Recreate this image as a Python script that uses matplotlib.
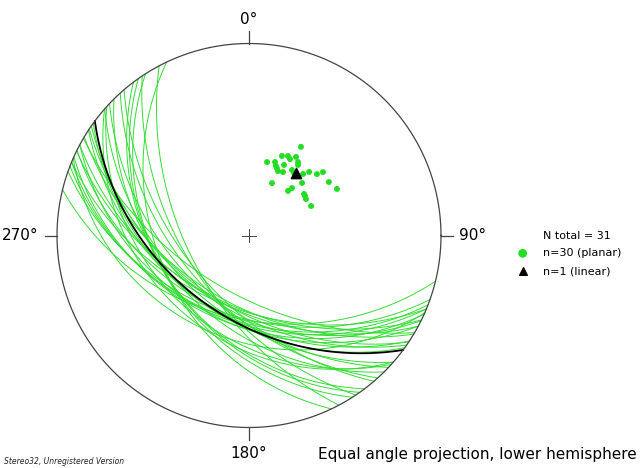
import matplotlib.pyplot as plt
import numpy as np

dip_dir = [210.4, 202.5, 206.1, 210.9, 193.8, 199.5, 213.7, 206.4, 201.2, 204.2,
           208.2, 213.3, 221.3, 223.4, 227.9, 229.4, 203.7, 225.3, 236.2, 222.2,
           221.2, 242.1, 233.0, 237.4, 244.6, 214.8, 215.8, 202.5, 208.2, 234.8]
dip = [56.3, 48.3, 49.5, 51.0, 43.0, 44.2, 49.4, 44.6, 42.4, 40.4,
       41.1, 44.4, 46.2, 49.0, 51.0, 53.8, 33.2, 42.5, 53.2, 36.9,
       34.3, 54.8, 39.5, 38.8, 39.4, 48.2, 43.7, 41.6, 48.6, 39.3]
# one linear reading (trend, plunge) and the plane normal to it
lin_trend = 36.6
lin_plunge = 45.6
tick_labels = ['0°', '90°', '180°', '270°']

GREEN = '#33dd33'


def stereo(e, n, d):
    # equal angle (stereographic) projection, lower hemisphere
    return e / (1 + d), n / (1 + d)


def line_vec(trend, plunge):
    t, p = np.radians(trend), np.radians(plunge)
    return np.sin(t) * np.cos(p), np.cos(t) * np.cos(p), np.sin(p)


def great_circle(dd, dp):
    st = np.radians(dd - 90)
    a = np.radians(dd)
    b = np.radians(dp)
    s = np.array([np.sin(st), np.cos(st), 0.0])
    dv = np.array([np.sin(a) * np.cos(b), np.cos(a) * np.cos(b), np.sin(b)])
    ang = np.linspace(0, np.pi, 200)
    v = np.outer(np.cos(ang), s) + np.outer(np.sin(ang), dv)
    return stereo(v[:, 0], v[:, 1], v[:, 2])


fig = plt.figure(figsize=(6.4, 4.68), dpi=100)
ax = fig.add_axes([0, 0, 1, 1])
ax.set_xlim(-249 / 192, (640 - 249) / 192)
ax.set_ylim((235.5 - 468) / 192, 235.5 / 192)
ax.set_aspect('equal')
ax.axis('off')

# primitive circle
th = np.linspace(0, 2 * np.pi, 400)
ax.plot(np.cos(th), np.sin(th), color='#444444', lw=0.9, zorder=3)

# ticks and labels
tl = 0.065
ax.plot([0, 0], [1, 1 + tl], color='#444444', lw=0.9)
ax.plot([1, 1 + tl], [0, 0], color='#444444', lw=0.9)
ax.plot([0, 0], [-1, -1 - tl], color='#444444', lw=0.9)
ax.plot([-1, -1 - tl], [0, 0], color='#444444', lw=0.9)
fs = 11
ax.text(0, 1 + tl + 0.02, tick_labels[0], ha='center', va='bottom', fontsize=fs)
ax.text(1 + tl + 0.03, 0, tick_labels[1], ha='left', va='center', fontsize=fs)
ax.text(0, -1 - tl - 0.03, tick_labels[2], ha='center', va='top', fontsize=fs)
ax.text(-1 - tl - 0.03, 0, tick_labels[3], ha='right', va='center', fontsize=fs)

# centre cross
c = 0.035
ax.plot([-c, c], [0, 0], color='#444444', lw=0.7)
ax.plot([0, 0], [-c, c], color='#444444', lw=0.7)

# great circles
for dd, dp in zip(dip_dir, dip):
    x, y = great_circle(dd, dp)
    ax.plot(x, y, color=GREEN, lw=0.7, zorder=2)
x, y = great_circle(lin_trend + 180, 90 - lin_plunge)
ax.plot(x, y, color='black', lw=1.3, zorder=2.5)

# poles
px, py = [], []
for dd, dp in zip(dip_dir, dip):
    e, n, d = line_vec(dd + 180, 90 - dp)
    xx, yy = stereo(e, n, d)
    px.append(xx)
    py.append(yy)
ax.scatter(px, py, s=18, color='#22dd22', edgecolors='none', zorder=4)
e, n, d = line_vec(lin_trend, lin_plunge)
lx, ly = stereo(e, n, d)
ax.scatter([lx], [ly], marker='^', s=55, color='black', zorder=5)

# legend
ax.scatter([(522.7 - 249) / 192], [(235.5 - 253.3) / 192], s=40,
           color='#22dd22', edgecolors='none')
ax.scatter([(522.7 - 249) / 192], [(235.5 - 271) / 192], marker='^', s=30,
           color='black')
lx0 = (543 - 249) / 192
ax.text(lx0, (235.5 - 236) / 192, 'N total = 31', fontsize=8, va='center')
ax.text(lx0, (235.5 - 253.5) / 192, 'n=30 (planar)', fontsize=8, va='center')
ax.text(lx0, (235.5 - 271) / 192, 'n=1 (linear)', fontsize=8, va='center')

ax.text((637 - 249) / 192, (235.5 - 455) / 192,
        'Equal angle projection, lower hemisphere', fontsize=11,
        ha='right', va='center')
ax.text((4 - 249) / 192, (235.5 - 462) / 192, 'Stereo32, Unregistered Version',
        fontsize=5.5, style='italic', ha='left', va='center', color='#222222')

plt.savefig('out.png', dpi=100)
plt.close()
